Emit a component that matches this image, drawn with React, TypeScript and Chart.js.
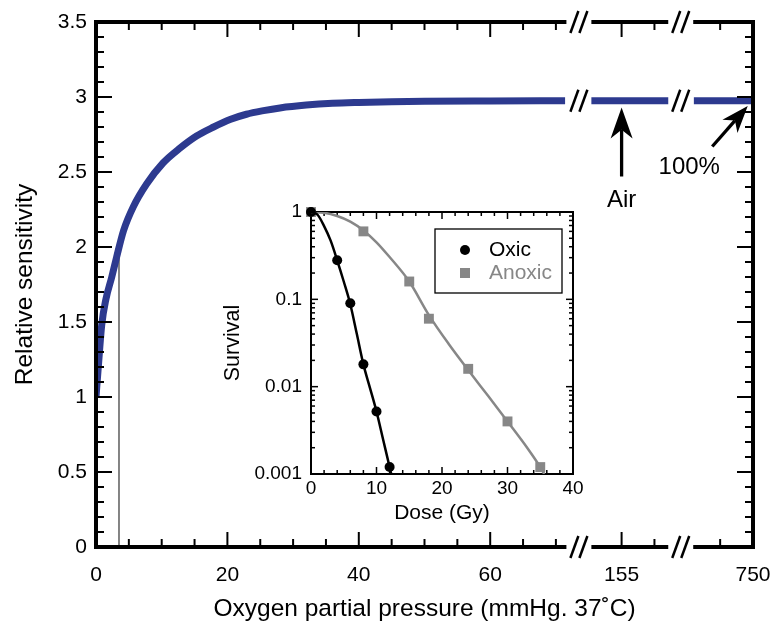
import React, { useEffect, useRef } from 'react';
import { Chart, registerables } from 'chart.js';
Chart.register(...registerables);

const FONT = "'Liberation Sans', Arial, Helvetica, sans-serif";
const BLUE = '#2d3a8f';
const GRAY = '#878787';

// ---------- Main chart data (oxygen partial pressure in mmHg vs relative sensitivity) ----------
const pO2Low = [0, 0.35, 0.87, 1.5, 2.4, 3.15, 4.2, 5.7, 7.7, 10.2, 12.8, 15.3, 17.9, 20.4, 22.9, 25.5, 28, 32, 36, 40, 45, 50, 60, 71.4];
const sensLow = [1.0, 1.2, 1.48, 1.65, 1.8, 1.935, 2.11, 2.27, 2.42, 2.56, 2.66, 2.74, 2.8, 2.85, 2.885, 2.909, 2.927, 2.946, 2.958, 2.964, 2.969, 2.972, 2.974, 2.975];
const pO2Air = [145.8, 169.2];
const sensAir = [2.975, 2.975];
const pO2Full = [732, 750];
const sensFull = [2.975, 2.975];
const kLineP = [3.5, 3.5];
const kLineS = [0, 2];

const xTickReal = [0, 20, 40, 60, 155, 750];
const xMajorReal = [20, 40, 60, 155];
const xMinorReal = [5, 10, 15, 25, 30, 35, 45, 50, 55, 65, 70, 165, 740];
const yTicks = [0, 0.5, 1, 1.5, 2, 2.5, 3, 3.5];
const axisSegs: [number, number][] = [[0, 71.6], [145.8, 169.2], [731.8, 750]];

const annLabels = ['Air', '100%'];
const annLabelP = [155, 730.6];
const annLabelS = [2.31, 2.53];
const arrowFromP = [155, 737.6];
const arrowFromS = [2.47, 2.67];
const arrowToP = [155, 748.4];
const arrowToS = [2.93, 2.94];

// broken x axis: real mmHg -> display position
const toDisp = (p: number) => (p <= 72 ? p : p < 400 ? 80 + (p - 155) / 2 : 100 + (p - 750) / 2);

// ---------- Inset data (survival vs dose) ----------
const doseOxicPts = [0, 4, 6, 8, 10, 12];
const survOxicPts = [1, 0.28, 0.09, 0.018, 0.0052, 0.0012];
const doseAnoxPts = [0, 8, 15, 18, 24, 30, 35];
const survAnoxPts = [1, 0.6, 0.16, 0.06, 0.016, 0.004, 0.0012];
const doseOxicFit = [0, 1, 2, 3, 4, 5, 6, 7, 8, 9, 10, 11, 12, 12.25];
const survOxicFit = [1, 0.93, 0.69, 0.47, 0.28, 0.16, 0.088, 0.04, 0.018, 0.0097, 0.0052, 0.0025, 0.0012, 0.001];
const doseAnoxFit = [0, 2, 4, 6, 8, 10, 12, 15, 18, 21, 24, 27, 30, 33, 35, 35.6];
const survAnoxFit = [1, 0.98, 0.9, 0.775, 0.615, 0.45, 0.305, 0.16, 0.066, 0.031, 0.0155, 0.0079, 0.004, 0.002, 0.0012, 0.001];
const insetXTicks = [0, 10, 20, 30, 40];
const insetYTicks = [0.001, 0.01, 0.1, 1];
const legendLabels = ['Oxic', 'Anoxic'];

function seg(ctx: CanvasRenderingContext2D, x0: number, y0: number, x1: number, y1: number) {
  ctx.beginPath();
  ctx.moveTo(x0, y0);
  ctx.lineTo(x1, y1);
  ctx.stroke();
}

function arrow(ctx: CanvasRenderingContext2D, x0: number, y0: number, x1: number, y1: number, headLen: number, headW: number) {
  const dx = x1 - x0, dy = y1 - y0;
  const L = Math.hypot(dx, dy);
  const ux = dx / L, uy = dy / L, nx = -uy, ny = ux;
  const bx = x1 - ux * headLen, by = y1 - uy * headLen;
  const kx = x1 - ux * headLen * 0.72, ky = y1 - uy * headLen * 0.72;
  ctx.lineWidth = 3.3;
  seg(ctx, x0, y0, kx, ky);
  ctx.beginPath();
  ctx.moveTo(x1, y1);
  ctx.lineTo(bx + (nx * headW) / 2, by + (ny * headW) / 2);
  ctx.lineTo(kx, ky);
  ctx.lineTo(bx - (nx * headW) / 2, by - (ny * headW) / 2);
  ctx.closePath();
  ctx.fill();
}

const zeroPad = (s: any) => {
  s.paddingLeft = 0;
  s.paddingRight = 0;
  s.paddingTop = 0;
  s.paddingBottom = 0;
};

const mainDeco = {
  id: 'mainDeco',
  afterDatasetsDraw(chart: any) {
    const { ctx, chartArea: ca } = chart;
    const sx = chart.scales.x, sy = chart.scales.y;
    const X = (p: number) => sx.getPixelForValue(toDisp(p));
    const Y = (v: number) => sy.getPixelForValue(v);
    ctx.save();
    ctx.strokeStyle = '#000';
    ctx.fillStyle = '#000';
    ctx.lineCap = 'butt';
    // ticks
    ctx.lineWidth = 2;
    for (const p of xMinorReal) {
      const px = X(p);
      seg(ctx, px, ca.bottom, px, ca.bottom - 8);
      seg(ctx, px, ca.top, px, ca.top + 8);
    }
    for (const p of xMajorReal) {
      const px = X(p);
      seg(ctx, px, ca.bottom, px, ca.bottom - 15);
      seg(ctx, px, ca.top, px, ca.top + 15);
    }
    for (let i = 1; i < 35; i++) {
      const py = Y(i / 10);
      const L = i % 5 === 0 ? 16 : 8;
      seg(ctx, ca.left, py, ca.left + L, py);
      seg(ctx, ca.right, py, ca.right - L, py);
    }
    // spines
    ctx.lineWidth = 4;
    seg(ctx, ca.left, ca.top - 2, ca.left, ca.bottom + 2);
    seg(ctx, ca.right, ca.top - 2, ca.right, ca.bottom + 2);
    for (const [a, b] of axisSegs) {
      let x0 = X(a), x1 = X(b);
      if (a === 0) x0 -= 2;
      if (b === 750) x1 += 2;
      seg(ctx, x0, ca.top, x1, ca.top);
      seg(ctx, x0, ca.bottom, x1, ca.bottom);
    }
    // break marks
    ctx.lineWidth = 2.5;
    for (let i = 0; i < axisSegs.length - 1; i++) {
      const c = (X(axisSegs[i][1]) + X(axisSegs[i + 1][0])) / 2;
      for (const yy of [ca.top, ca.bottom, Y(sensAir[0])]) {
        for (const d of [-4.5, 4.5]) seg(ctx, c + d - 4, yy + 11, c + d + 4, yy - 11);
      }
    }
    // arrows
    for (let i = 0; i < arrowFromP.length; i++) {
      arrow(ctx, X(arrowFromP[i]), Y(arrowFromS[i]), X(arrowToP[i]), Y(arrowToS[i]), i === 0 ? 31 : 27, i === 0 ? 22 : 20);
    }
    ctx.font = `24px ${FONT}`;
    ctx.textAlign = 'center';
    ctx.textBaseline = 'middle';
    for (let i = 0; i < annLabels.length; i++) ctx.fillText(annLabels[i], X(annLabelP[i]), Y(annLabelS[i]));
    ctx.restore();
  },
};

const insetAxes = {
  id: 'insetAxes',
  beforeDatasetsDraw(chart: any) {
    const { ctx, chartArea: ca } = chart;
    const sx = chart.scales.x, sy = chart.scales.y;
    ctx.save();
    ctx.strokeStyle = '#000';
    ctx.lineWidth = 1.5;
    for (let d = 2; d < 40; d += 2) {
      const px = sx.getPixelForValue(d);
      const L = d % 10 === 0 ? 7 : 4;
      seg(ctx, px, ca.bottom, px, ca.bottom - L);
      seg(ctx, px, ca.top, px, ca.top + L);
    }
    for (let e = -3; e < 0; e++) {
      for (let m = 1; m < 10; m++) {
        if (e === -3 && m === 1) continue;
        const py = sy.getPixelForValue(m * Math.pow(10, e));
        const L = m === 1 ? 7 : 4;
        seg(ctx, ca.left, py, ca.left + L, py);
        seg(ctx, ca.right, py, ca.right - L, py);
      }
    }
    ctx.lineWidth = 2;
    ctx.strokeRect(ca.left, ca.top, ca.right - ca.left, ca.bottom - ca.top);
    ctx.restore();
  },
  afterDatasetsDraw(chart: any) {
    const { ctx, chartArea: ca } = chart;
    ctx.save();
    const bx = ca.left + 124, by = ca.top + 17, bw = 127, bh = 64;
    ctx.fillStyle = '#fff';
    ctx.fillRect(bx, by, bw, bh);
    ctx.strokeStyle = '#000';
    ctx.lineWidth = 1.3;
    ctx.strokeRect(bx, by, bw, bh);
    ctx.font = `21px ${FONT}`;
    ctx.textAlign = 'left';
    ctx.textBaseline = 'middle';
    ctx.fillStyle = '#000';
    ctx.beginPath();
    ctx.arc(bx + 30, by + 21, 5, 0, Math.PI * 2);
    ctx.fill();
    ctx.fillText(legendLabels[0], bx + 54, by + 21);
    ctx.fillStyle = GRAY;
    ctx.fillRect(bx + 25, by + 39, 10, 10);
    ctx.fillText(legendLabels[1], bx + 54, by + 44);
    ctx.restore();
  },
};

export default function App() {
  const mainRef = useRef<HTMLCanvasElement>(null);
  const insetRef = useRef<HTMLCanvasElement>(null);

  useEffect(() => {
    document.body.style.margin = '0';
    Chart.defaults.font.family = FONT;
    Chart.defaults.color = '#000';

    const mk = (ps: number[], ss: number[]) => ps.map((p, i) => ({ x: toDisp(p), y: ss[i] }));
    const blueLine = { borderColor: BLUE, borderWidth: 7, pointRadius: 0, fill: false, cubicInterpolationMode: 'monotone' as const };

    const main = new Chart(mainRef.current!, {
      type: 'line',
      data: {
        datasets: [
          { data: mk(pO2Low, sensLow), ...blueLine },
          { data: mk(pO2Air, sensAir), ...blueLine },
          { data: mk(pO2Full, sensFull), ...blueLine },
          { data: mk(kLineP, kLineS), borderColor: '#333', borderWidth: 1.2, pointRadius: 0, fill: false },
        ],
      },
      options: {
        responsive: false,
        animation: false,
        layout: { padding: { left: 0, top: 22, right: 19, bottom: 0 } },
        plugins: { legend: { display: false }, tooltip: { enabled: false } },
        scales: {
          x: {
            type: 'linear',
            min: 0,
            max: 100,
            afterBuildTicks: (s: any) => {
              s.ticks = xTickReal.map((p) => ({ value: toDisp(p) }));
            },
            afterFit: (s: any) => {
              s.height = 83;
              zeroPad(s);
            },
            grid: { display: false, drawTicks: false },
            border: { display: false },
            ticks: {
              autoSkip: false,
              maxRotation: 0,
              padding: 16,
              font: { size: 21 },
              color: '#000',
              callback: (v: any) => {
                const i = xTickReal.findIndex((p) => Math.abs(toDisp(p) - v) < 1e-6);
                return i >= 0 ? String(xTickReal[i]) : '';
              },
            },
            title: {
              display: true,
              text: 'Oxygen partial pressure (mmHg. 37˚C)',
              font: { size: 24.5 },
              color: '#000',
              padding: { top: 0, bottom: 6 },
            },
          },
          y: {
            type: 'linear',
            min: 0,
            max: 3.5,
            afterBuildTicks: (s: any) => {
              s.ticks = yTicks.map((v) => ({ value: v }));
            },
            afterFit: (s: any) => {
              s.width = 96;
              zeroPad(s);
            },
            grid: { display: false, drawTicks: false },
            border: { display: false },
            ticks: { autoSkip: false, padding: 9, font: { size: 21 }, color: '#000', callback: (v: any) => String(v) },
            title: {
              display: true,
              text: 'Relative sensitivity',
              font: { size: 24.5 },
              color: '#000',
              padding: { top: 11, bottom: 0 },
            },
          },
        },
      },
      plugins: [mainDeco],
    });

    const pts = (xs: number[], ys: number[]) => xs.map((x, i) => ({ x, y: ys[i] }));
    const inset = new Chart(insetRef.current!, {
      type: 'line',
      data: {
        datasets: [
          { data: pts(doseOxicFit, survOxicFit), borderColor: '#000', borderWidth: 2.5, pointRadius: 0, fill: false, cubicInterpolationMode: 'monotone' },
          { data: pts(doseAnoxFit, survAnoxFit), borderColor: GRAY, borderWidth: 2.5, pointRadius: 0, fill: false, cubicInterpolationMode: 'monotone' },
          { data: pts(doseOxicPts, survOxicPts), showLine: false, pointRadius: 5, pointStyle: 'circle', pointBackgroundColor: '#000', pointBorderWidth: 0, borderColor: '#000', clip: false },
          { data: pts(doseAnoxPts, survAnoxPts), showLine: false, pointRadius: 7, pointStyle: 'rect', pointBackgroundColor: GRAY, pointBorderWidth: 0, borderColor: GRAY, clip: false },
        ],
      },
      options: {
        responsive: false,
        animation: false,
        layout: { padding: { left: 0, top: 17, right: 17, bottom: 0 } },
        plugins: { legend: { display: false }, tooltip: { enabled: false } },
        scales: {
          x: {
            type: 'linear',
            min: 0,
            max: 40,
            afterBuildTicks: (s: any) => {
              s.ticks = insetXTicks.map((v) => ({ value: v }));
            },
            afterFit: (s: any) => {
              s.height = 56;
              zeroPad(s);
            },
            grid: { display: false, drawTicks: false },
            border: { display: false },
            ticks: { autoSkip: false, maxRotation: 0, padding: 3, font: { size: 19 }, color: '#000', callback: (v: any) => String(v) },
            title: { display: true, text: 'Dose (Gy)', font: { size: 21 }, color: '#000', padding: { top: 0, bottom: 4 } },
          },
          y: {
            type: 'logarithmic',
            min: 0.001,
            max: 1,
            afterBuildTicks: (s: any) => {
              s.ticks = insetYTicks.map((v) => ({ value: v }));
            },
            afterFit: (s: any) => {
              s.width = 96;
              zeroPad(s);
            },
            grid: { display: false, drawTicks: false },
            border: { display: false },
            ticks: { autoSkip: false, padding: 9, font: { size: 19 }, color: '#000', callback: (v: any) => String(v) },
            title: { display: true, text: 'Survival', font: { size: 21.5 }, color: '#000', padding: { top: 5, bottom: 0 } },
          },
        },
      },
      plugins: [insetAxes],
    });

    return () => {
      main.destroy();
      inset.destroy();
    };
  }, []);

  return (
    <div style={{ position: 'relative', width: 772, height: 630, background: '#fff' }}>
      <canvas ref={mainRef} width={772} height={630} style={{ position: 'absolute', left: 0, top: 0, width: 772, height: 630 }} />
      <canvas ref={insetRef} width={375} height={335} style={{ position: 'absolute', left: 215, top: 195, width: 375, height: 335 }} />
    </div>
  );
}
